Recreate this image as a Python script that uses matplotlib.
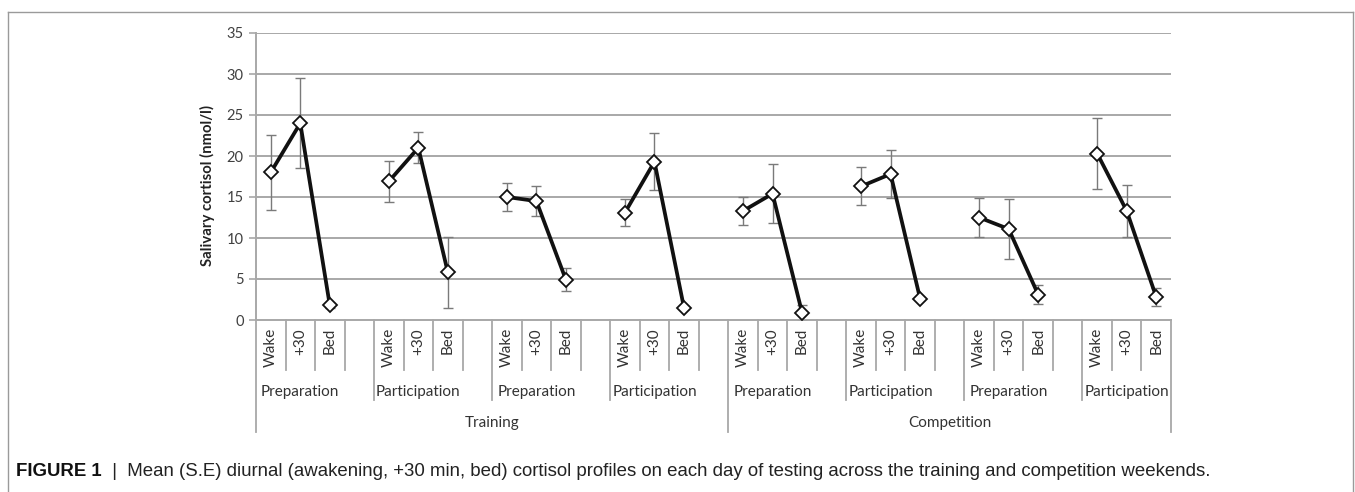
import matplotlib
matplotlib.use("Agg")
import matplotlib.pyplot as plt
from matplotlib.lines import Line2D
from matplotlib import font_manager
import numpy as np

# ---------------- data ----------------
timepoints = ["Wake", "+30", "Bed"]
day_labels = ["Preparation", "Participation", "Preparation", "Participation",
              "Preparation", "Participation", "Preparation", "Participation"]
weekend_labels = ["Training", "Competition"]

wake_mean = [18.0, 16.9, 15.0, 13.1, 13.3, 16.3, 12.5, 20.3]
plus30_mean = [24.0, 21.0, 14.5, 19.3, 15.4, 17.8, 11.1, 13.3]
bed_mean = [1.8, 5.8, 4.9, 1.5, 0.9, 2.6, 3.1, 2.8]

wake_se = [4.6, 2.5, 1.7, 1.6, 1.7, 2.3, 2.4, 4.3]
plus30_se = [5.5, 1.9, 1.8, 3.5, 3.6, 2.9, 3.7, 3.2]
bed_se = [0.3, 4.3, 1.4, 0.2, 0.9, 0.2, 1.2, 1.1]

ylabel = "Salivary cortisol (nmol/l)"
caption_bold = "FIGURE 1"
caption_rest = "  |  Mean (S.E) diurnal (awakening, +30 min, bed) cortisol profiles on each day of testing across the training and competition weekends."

# ---------------- fonts ----------------
avail = {f.name for f in font_manager.fontManager.ttflist}
chart_font = "Lato" if "Lato" in avail else "DejaVu Sans"
cap_font = "Liberation Sans" if "Liberation Sans" in avail else "DejaVu Sans"

W, H = 1355, 492
fig = plt.figure(figsize=(W / 100, H / 100), dpi=100)

ax_left, ax_right = 256, 1171
ax_top, ax_bot = 33, 320
ax = fig.add_axes([ax_left / W, 1 - ax_bot / H, (ax_right - ax_left) / W, (ax_bot - ax_top) / H])

n_groups = len(day_labels)
n_slots = n_groups * 4 - 1

# build x / y arrays with gaps between groups
xs, ys, es = [], [], []
for g in range(n_groups):
    for k, (m, e) in enumerate(zip([wake_mean[g], plus30_mean[g], bed_mean[g]],
                                   [wake_se[g], plus30_se[g], bed_se[g]])):
        xs.append(4 * g + k)
        ys.append(m)
        es.append(e)
    if g < n_groups - 1:
        xs.append(4 * g + 3)
        ys.append(np.nan)
        es.append(np.nan)
xs = np.array(xs, dtype=float)
ys = np.array(ys, dtype=float)
es = np.array(es, dtype=float)

grid_c = "#a8a8a8"
for v in range(5, 40, 5):
    ax.axhline(v, color=grid_c, lw=1.4, zorder=1)

mask = ~np.isnan(ys)
ax.errorbar(xs[mask], ys[mask], yerr=es[mask], fmt="none", ecolor="#7a7a7a",
            elinewidth=1.0, capsize=3.5, capthick=1.0, zorder=2)
ax.plot(xs, ys, color="#111111", lw=2.7, zorder=3, solid_joinstyle="round")
ax.plot(xs[mask], ys[mask], linestyle="none", marker="D", markersize=7.5,
        markerfacecolor="white", markeredgecolor="#111111", markeredgewidth=1.3, zorder=4)

ax.set_xlim(-0.5, n_slots - 0.5)
ax.set_ylim(0, 35)
ax.set_yticks(range(0, 40, 5))
ax.set_xticks([])
for s in ["top", "right"]:
    ax.spines[s].set_visible(False)
ax.spines["left"].set_color(grid_c)
ax.spines["left"].set_linewidth(1.4)
ax.spines["bottom"].set_color(grid_c)
ax.spines["bottom"].set_linewidth(1.4)
ax.tick_params(axis="y", length=5, width=1.2, color=grid_c, labelsize=10.5,
               labelcolor="#404040", pad=4)
for lab in ax.get_yticklabels():
    lab.set_fontfamily(chart_font)
ax.set_ylabel(ylabel, fontsize=10.7, fontweight="bold", color="#222222",
              family=chart_font, va="center")
ax.yaxis.set_label_coords((207 - ax_left) / (ax_right - ax_left), (ax_bot - 185) / (ax_bot - ax_top))

# ---------------- multi-level category axis ----------------
ph = ax_bot - ax_top
def ya(px):
    return (ax_bot - px) / ph

trans = ax.get_xaxis_transform()
line_kw = dict(color=grid_c, lw=1.3, transform=trans, clip_on=False)
for k in range(n_slots - 1):
    b = k + 0.5
    if (k + 1) % 4 == 0:
        y_end = 432 if (k + 1) == 16 else 400
    else:
        y_end = 370
    ax.add_line(Line2D([b, b], [0, ya(y_end)], **line_kw))
for b in [-0.5, n_slots - 0.5]:
    ax.add_line(Line2D([b, b], [0, ya(432)], **line_kw))

tfs = 11
for g in range(n_groups):
    for k, t in enumerate(timepoints):
        ax.text(4 * g + k, ya(328), t, rotation=90, ha="center", va="top",
                transform=trans, fontsize=tfs, color="#333333", family=chart_font)
    ax.text(4 * g + 1, ya(392), day_labels[g], ha="center", va="center",
            transform=trans, fontsize=tfs, color="#333333", family=chart_font)
for w, lab in enumerate(weekend_labels):
    centre = (16 * w - 0.5 + min(16 * (w + 1) - 0.5, n_slots - 0.5)) / 2
    ax.text(centre, ya(423), lab, ha="center", va="center", transform=trans,
            fontsize=tfs, color="#333333", family=chart_font)

# ---------------- frame ----------------
fc = "#9a9a9a"
fig.add_artist(Line2D([8 / W, 1353 / W], [1 - 12 / H, 1 - 12 / H], color=fc, lw=1.0, transform=fig.transFigure))
fig.add_artist(Line2D([8 / W, 8 / W], [1 - 12 / H, 0], color=fc, lw=1.0, transform=fig.transFigure))
fig.add_artist(Line2D([1353 / W, 1353 / W], [1 - 12 / H, 0], color=fc, lw=1.0, transform=fig.transFigure))

# ---------------- caption ----------------
cy = 1 - 471 / H
t1 = fig.text(16 / W, cy, caption_bold, fontsize=13.4, fontweight="bold",
              family=cap_font, color="#111111", va="center", ha="left")
fig.canvas.draw()
bb = t1.get_window_extent()
fig.text(bb.x1 / W, cy, caption_rest, fontsize=13.4, family=cap_font,
         color="#222222", va="center", ha="left")

fig.savefig("out.png", dpi=100)
